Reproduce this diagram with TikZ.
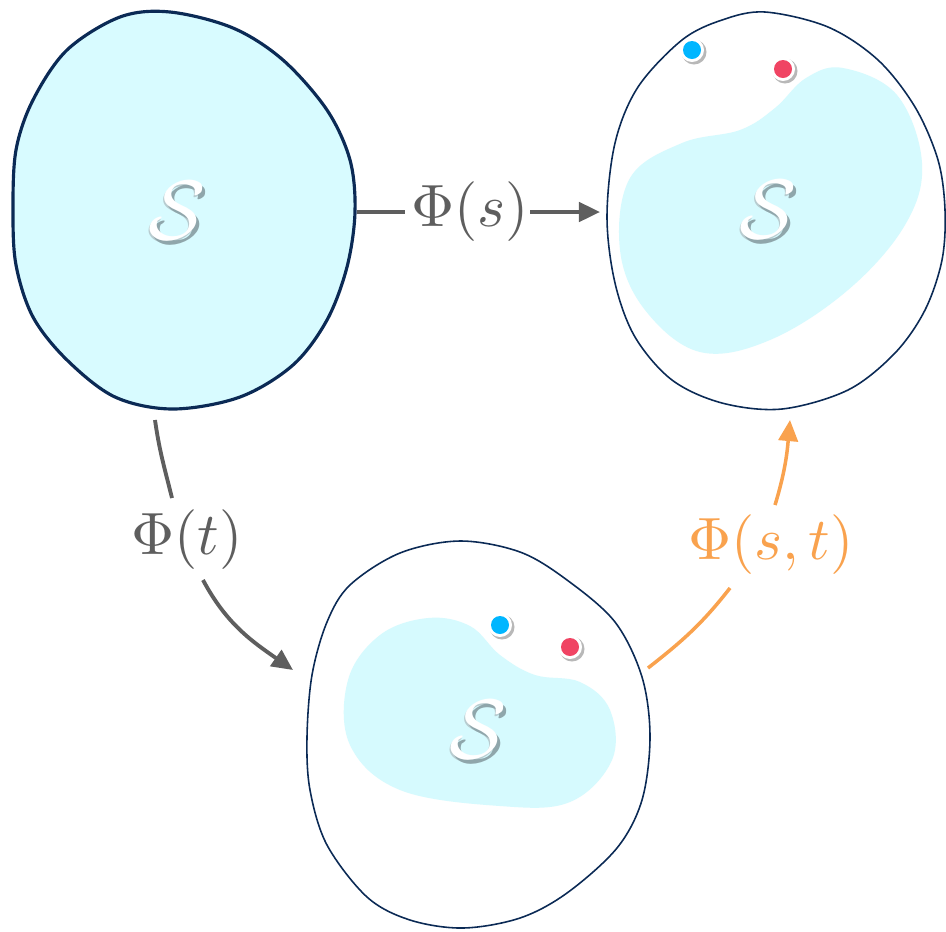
\documentclass[tikz,border=0pt]{standalone}
\usetikzlibrary{arrows.meta,calc}
\definecolor{navy}{HTML}{0B2A55}
\definecolor{cyanfill}{HTML}{D8FBFF}
\definecolor{blobfill}{HTML}{D6FAFE}
\definecolor{arrowgray}{HTML}{5E5E5E}
\definecolor{orangeln}{HTML}{F9A24E}
\definecolor{bluedot}{HTML}{00B6FF}
\definecolor{reddot}{HTML}{F04463}
\definecolor{sshade}{HTML}{8FA6AB}
\definecolor{sshadelight}{HTML}{B8CCD0}
\newcommand{\myshadowS}{%
  \rlap{\hspace{-0.15pt}\raisebox{-0.25pt}{\color{sshadelight}$\mathcal{S}$}}%
  \rlap{\hspace{0.4pt}\raisebox{-0.5pt}{\color{sshade}$\mathcal{S}$}}%
  {\color{white}$\mathcal{S}$}}
\begin{document}
\begin{tikzpicture}[x=0.02cm,y=-0.02cm,
  thinout/.style={draw=navy,line width=0.9pt,fill=white},
  thickout/.style={draw=navy,line width=1.8pt,fill=cyanfill},
  blob/.style={fill=blobfill},
  conn/.style={draw=arrowgray,line width=2.2pt},
  oconn/.style={draw=orangeln,line width=2pt},
  headtip/.style={-{Triangle[length=12pt,width=11pt]}},
  lbl/.style={text=arrowgray,scale=3.4,inner sep=0pt},
  olbl/.style={text=orangeln,scale=3.4,inner sep=0pt},
  sletter/.style={scale=4.8,inner sep=0pt},
]
\useasboundingbox (0,0) rectangle (946,931);

% shape 1
\draw[thickout] plot[smooth cycle,tension=0.55] coordinates {
 (170,12) (233,28) (283,60) (327,110) (350,160) (355,212) (347,267)
 (327,320) (293,365) (240,397) (173,409) (115,397) (67,360) (33,317)
 (16,265) (13,210) (16,150) (33,100) (67,50) (120,17)};

% shape 2
\draw[thinout] plot[smooth cycle,tension=0.55] coordinates {
 (765,12) (828,27) (878,60) (915,107) (938,160) (945,210) (942,260)
 (925,310) (895,353) (848,390) (782,409) (722,403) (672,380) (635,337)
 (615,283) (607,217) (615,143) (638,87) (682,40) (722,20)};
\fill[blob] plot[smooth cycle,tension=0.62] coordinates {
 (843,68) (897,95) (922,163) (905,225) (848,290) (770,340) (700,352)
 (645,310) (620,250) (630,178) (682,143) (740,130) (775,108) (806,78)};

% shape 3
\draw[thinout] plot[smooth cycle,tension=0.55] coordinates {
 (460,541) (520,552) (567,580) (615,622) (642,677) (650,737) (642,800)
 (617,848) (567,893) (520,918) (463,928) (410,920) (367,897) (327,845)
 (310,790) (307,737) (312,675) (327,622) (350,585) (400,553)};
\fill[blob] plot[smooth cycle,tension=0.62] coordinates {
 (428,618) (470,626) (500,655) (535,675) (580,682) (610,710) (612,760)
 (570,802) (500,806) (400,790) (350,745) (348,680) (380,635)};

% S letters
\node[sletter] (S1) at (177,213) {\myshadowS};
\node[sletter] (S2) at (768,212) {\myshadowS};
\node[sletter] (S3) at (478,732) {\myshadowS};

% dots
\foreach \n/\x/\y/\c in {b2/692/50/bluedot, r2/783/69/reddot,
                         b3/500/625/bluedot, r3/570/647/reddot}{
  \fill[black,opacity=0.28] (\x+2,\y+2) circle (12.5);
  \fill[white] (\x,\y) circle (12);
  \fill[\c] (\x,\y) circle (9);
  \coordinate (\n) at (\x,\y);
}

% connector endpoints
\coordinate (a1) at (357,212);
\coordinate (a2) at (600,212);
\coordinate (t0) at (155,420);
\coordinate (t1) at (172,498);
\coordinate (t2) at (203,580);
\coordinate (t3) at (293,670);
\coordinate (o0) at (648,668);
\coordinate (o1) at (730,588);
\coordinate (o2) at (775,505);
\coordinate (o3) at (790,420);

% labels
\node[lbl] (ls) at (470,212) {$\Phi(s)$};
\node[lbl] (lt) at (187,540) {$\Phi(t)$};
\node[olbl] (lst) at (771,545) {$\Phi(s,t)$};

% connectors
\draw[conn] (a1) -- ([xshift=-3pt]ls.west);
\draw[conn,headtip] (ls.east) -- (a2);
\draw[conn] (t0) to[out=-82,in=104] (t1);
\draw[conn,headtip] (t2) to[out=-62,in=145] (t3);
\draw[oconn] (o0) to[out=38,in=-128] (o1);
\draw[oconn,headtip] (o2) to[out=73,in=-95] (o3);
\end{tikzpicture}
\end{document}
